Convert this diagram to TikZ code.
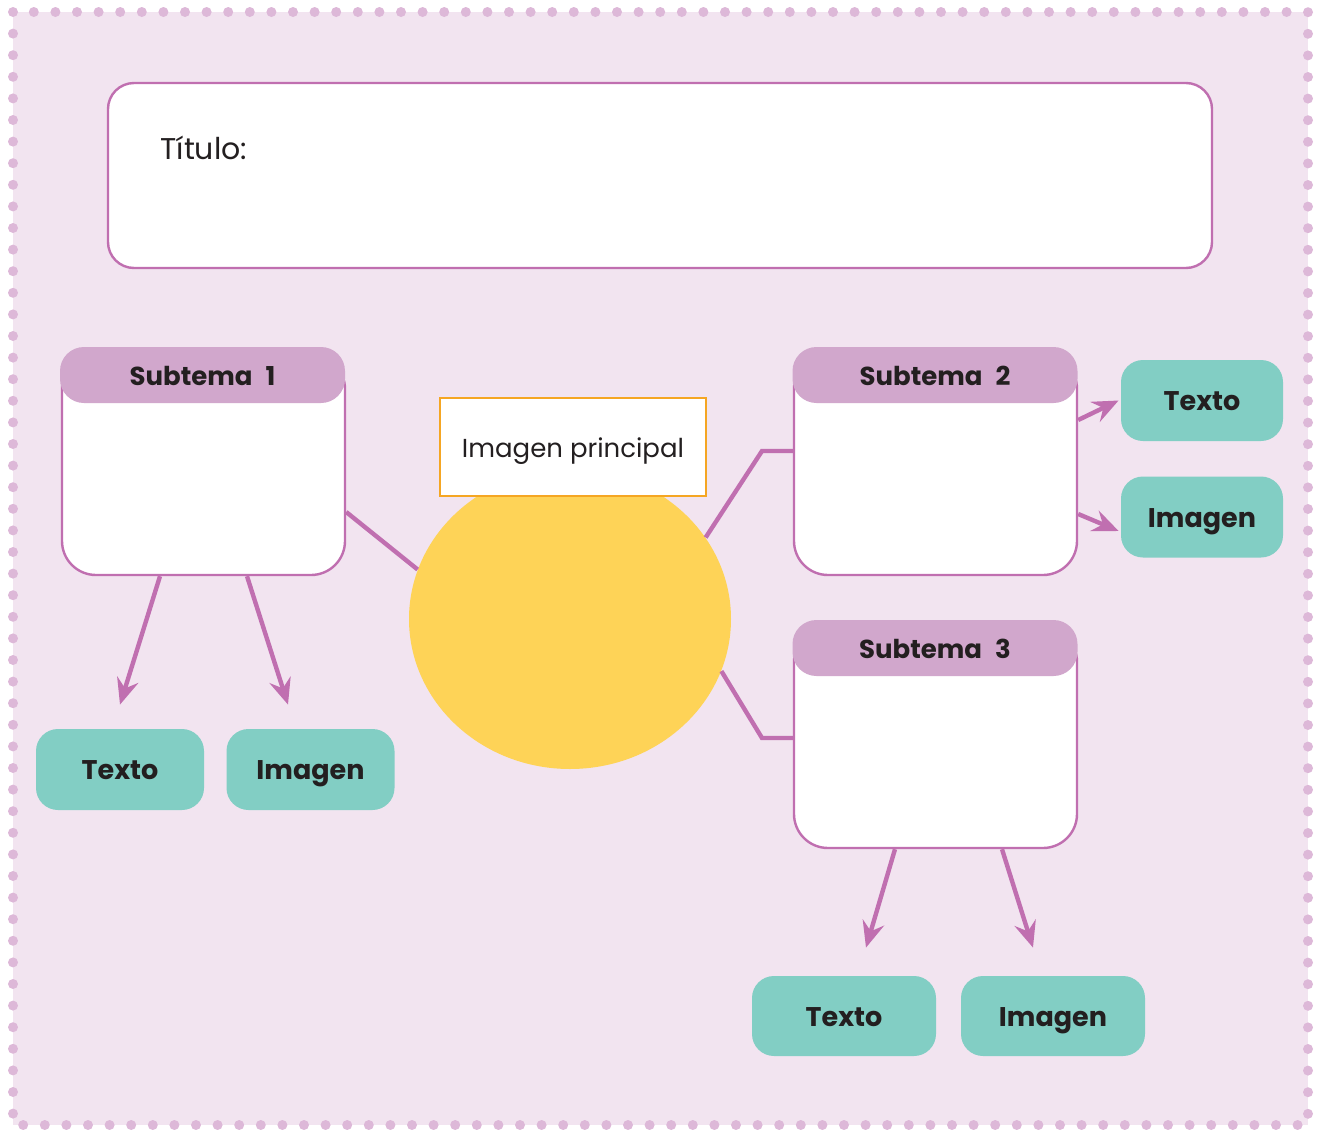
\documentclass[tikz,border=0pt]{standalone}
\usepackage{fontspec}
\setmainfont{Poppins}
\usetikzlibrary{arrows.meta, shapes.geometric}

\definecolor{fondo}{HTML}{F2E4F0}
\definecolor{punto}{HTML}{DDB8D8}
\definecolor{lila}{HTML}{C06FB0}
\definecolor{cabecera}{HTML}{D1A7CC}
\definecolor{turquesa}{HTML}{82CEC4}
\definecolor{sol}{HTML}{FED357}
\definecolor{naranja}{HTML}{F5A623}
\definecolor{tinta}{HTML}{231F20}

\begin{document}
\begin{tikzpicture}[x=0.5pt, y=-0.5pt,
    subbody/.style = {draw=lila, line width=1.2pt, fill=white,
        rounded corners=17pt, minimum width=141.5pt,
        minimum height=110pt, inner sep=0pt},
    subhead/.style = {fill=cabecera, rounded corners=12pt,
        minimum width=142.5pt, minimum height=28pt, inner sep=0pt,
        text height=12.5pt, text depth=2.5pt,
        text=tinta, font=\bfseries\fontsize{13}{15}\selectfont},
    hoja/.style = {fill=turquesa, rounded corners=11pt,
        minimum height=40.5pt, inner sep=0pt,
        text height=13pt, text depth=3pt,
        text=tinta, font=\bfseries\fontsize{13.5}{16}\selectfont},
    enlace/.style = {draw=lila, line width=2.2pt},
    flecha/.style = {enlace, -{Stealth[length=13pt, width=11pt, inset=4.5pt]}}]
    % \draw [help lines] (0,0) grid [step=100] (1319,1130);
    \useasboundingbox (0,0) rectangle (1319,1130);
    \fill [fondo] (13,12) rectangle (1308,1125);
    \draw [punto, line width=5pt, line cap=round,
        dash pattern=on 0pt off 10.8pt] (13,12) rectangle (1308,1125);

    % title
    \node (titulo) [draw=lila, line width=1.2pt, fill=white,
        rounded corners=13pt, minimum width=552pt,
        minimum height=92.5pt] at (660,175.5) {};
    \node (rotulo) [anchor=west, inner sep=0pt, text=tinta,
        font=\fontsize{15}{18}\selectfont] at (160,148) {Título:};

    % centre
    \node (sol) [ellipse, fill=sol, minimum width=161pt,
        minimum height=150pt, inner sep=0pt] at (570,619) {};
    \node (principal) [draw=naranja, line width=1.2pt, fill=white,
        minimum width=133pt, minimum height=49pt, text=tinta,
        text height=12.5pt, text depth=2.5pt,
        font=\fontsize{13}{15}\selectfont] at (573,447) {Imagen principal};

    % subtopics
    \node (s1) [subbody] at (203.5,465) {};
    \node (h1) [subhead] at (202.5,375) {Subtema\hspace{0.5em}1};
    \node (s2) [subbody] at (935.5,465) {};
    \node (h2) [subhead] at (935,375) {Subtema\hspace{0.5em}2};
    \node (s3) [subbody] at (935.5,738) {};
    \node (h3) [subhead] at (935,648) {Subtema\hspace{0.5em}3};

    \node (t1) [hoja, minimum width=84pt] at (120,769.5) {Texto};
    \node (i1) [hoja, minimum width=84pt] at (310.5,769.5) {Imagen};
    \node (t2) [hoja, minimum width=81pt] at (1202,400.5) {Texto};
    \node (i2) [hoja, minimum width=81pt] at (1202,517) {Imagen};
    \node (t3) [hoja, minimum width=92pt, minimum height=40pt] at (844,1016) {Texto};
    \node (i3) [hoja, minimum width=92pt, minimum height=40pt] at (1053,1016) {Imagen};

    \coordinate (k2) at (762,451);
    \coordinate (k3) at (762,738);

    \draw [enlace] ([yshift=-23.5pt]s1.east) -- (sol.162);
    \draw [enlace] (sol.31) -- (k2) -- (s2.west |- k2);
    \draw [enlace] (sol.-19.5) -- (k3) -- (s3.west |- k3);

    \path
        ([xshift=-21.75pt]s1.south) edge [flecha] ([yshift=12pt]t1.north)
        ([xshift=21.75pt]s1.south) edge [flecha] ([shift={(-11.25pt,12pt)}]i1.north)
        ([yshift=22.5pt]s2.east) edge [flecha] ([xshift=-1pt]t2.west)
        ([yshift=-24.5pt]s2.east) edge [flecha] ([shift={(-1pt,-7pt)}]i2.west)
        ([xshift=-20.25pt]s3.south) edge [flecha] ([shift={(11pt,14pt)}]t3.north)
        ([xshift=33.25pt]s3.south) edge [flecha] ([shift={(-10pt,14pt)}]i3.north);
\end{tikzpicture}
\end{document}
